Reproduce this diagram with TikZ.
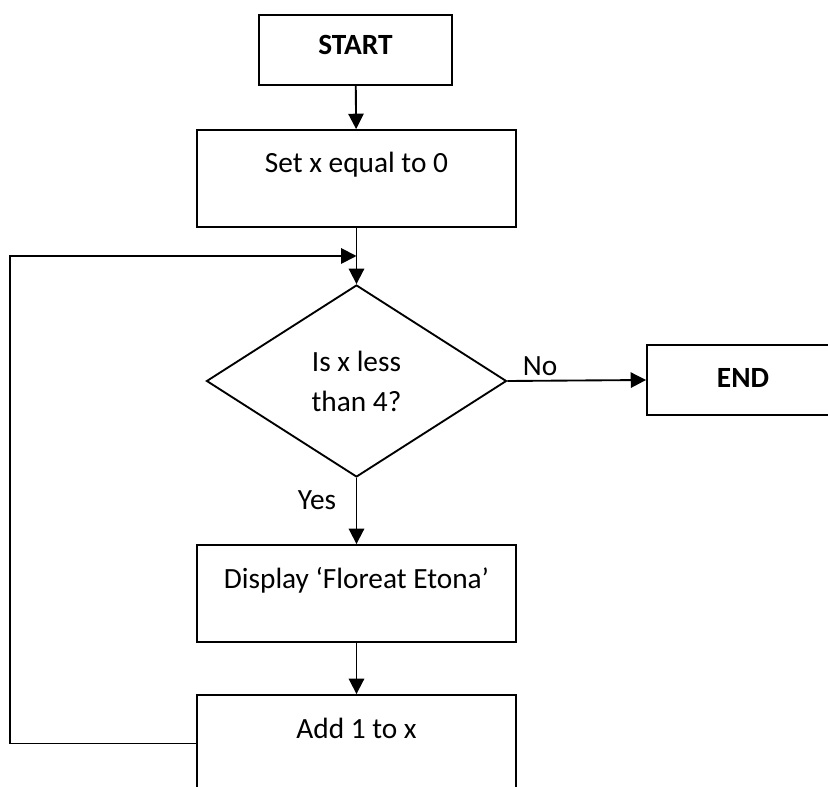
\documentclass[tikz,border=0pt]{standalone}
\usepackage{fontspec}
\setmainfont{Carlito}
\usetikzlibrary{shapes.geometric,arrows.meta}
\begin{document}
\begin{tikzpicture}[x=0.75pt,y=-0.75pt,
  box/.style={draw,line width=1.4pt,rectangle,inner sep=0pt},
  txt/.style={font=\fontsize{22}{30}\selectfont},
  btxt/.style={font=\fontsize{22}{30}\selectfont\bfseries},
  arr/.style={line width=1.4pt,-{Triangle[length=11.5pt,width=11.5pt]}},
  lbl/.style={font=\fontsize{22}{30}\selectfont,inner sep=0pt,anchor=center}]
\useasboundingbox (0,0) rectangle (828,787);
% boxes
\node[box,minimum width=144.75pt,minimum height=52.5pt,
  label={[btxt,yshift=3.75pt]center:START}] (start) at (355.5,50) {};
\node[box,minimum width=239.25pt,minimum height=72.75pt,
  label={[txt,yshift=10.5pt]center:Set x equal to 0}] (set) at (356.5,178.5) {};
\node[draw,diamond,line width=1.4pt,inner sep=0pt,minimum width=225pt,minimum height=144pt,
  txt,align=center] (dec) at (356.5,381) {Is x less\\than 4?};
\node[box,minimum width=187.5pt,minimum height=52.5pt,
  label={[btxt,xshift=-21.75pt,yshift=1.5pt]center:END}] (end) at (772,380) {};
\node[box,minimum width=239.25pt,minimum height=72.75pt,
  label={[txt,yshift=10pt]center:Display ‘Floreat Etona’}] (disp) at (356.5,593.5) {};
\node[box,minimum width=239.25pt,minimum height=72.75pt,
  label={[txt,yshift=11pt]center:Add 1 to x}] (add) at (356.5,743.5) {};
% connectors
\draw[arr] (start) -- (set);
\draw[arr] (set) -- (dec);
\draw[arr] (dec.east) -- node[lbl,pos=0.236,yshift=11.25pt] (nolbl) {No} (end.west);
\draw[arr] (dec.south) -- node[lbl,pos=0.34,xshift=-29.6pt] (yeslbl) {Yes} (disp.north);
\draw[arr] (disp) -- (add);
\coordinate (lcorner) at (10,256);
\coordinate (ljoin) at (356.5,256);
\draw[arr] (add.west) -| (lcorner) -- (ljoin);
\end{tikzpicture}
\end{document}
